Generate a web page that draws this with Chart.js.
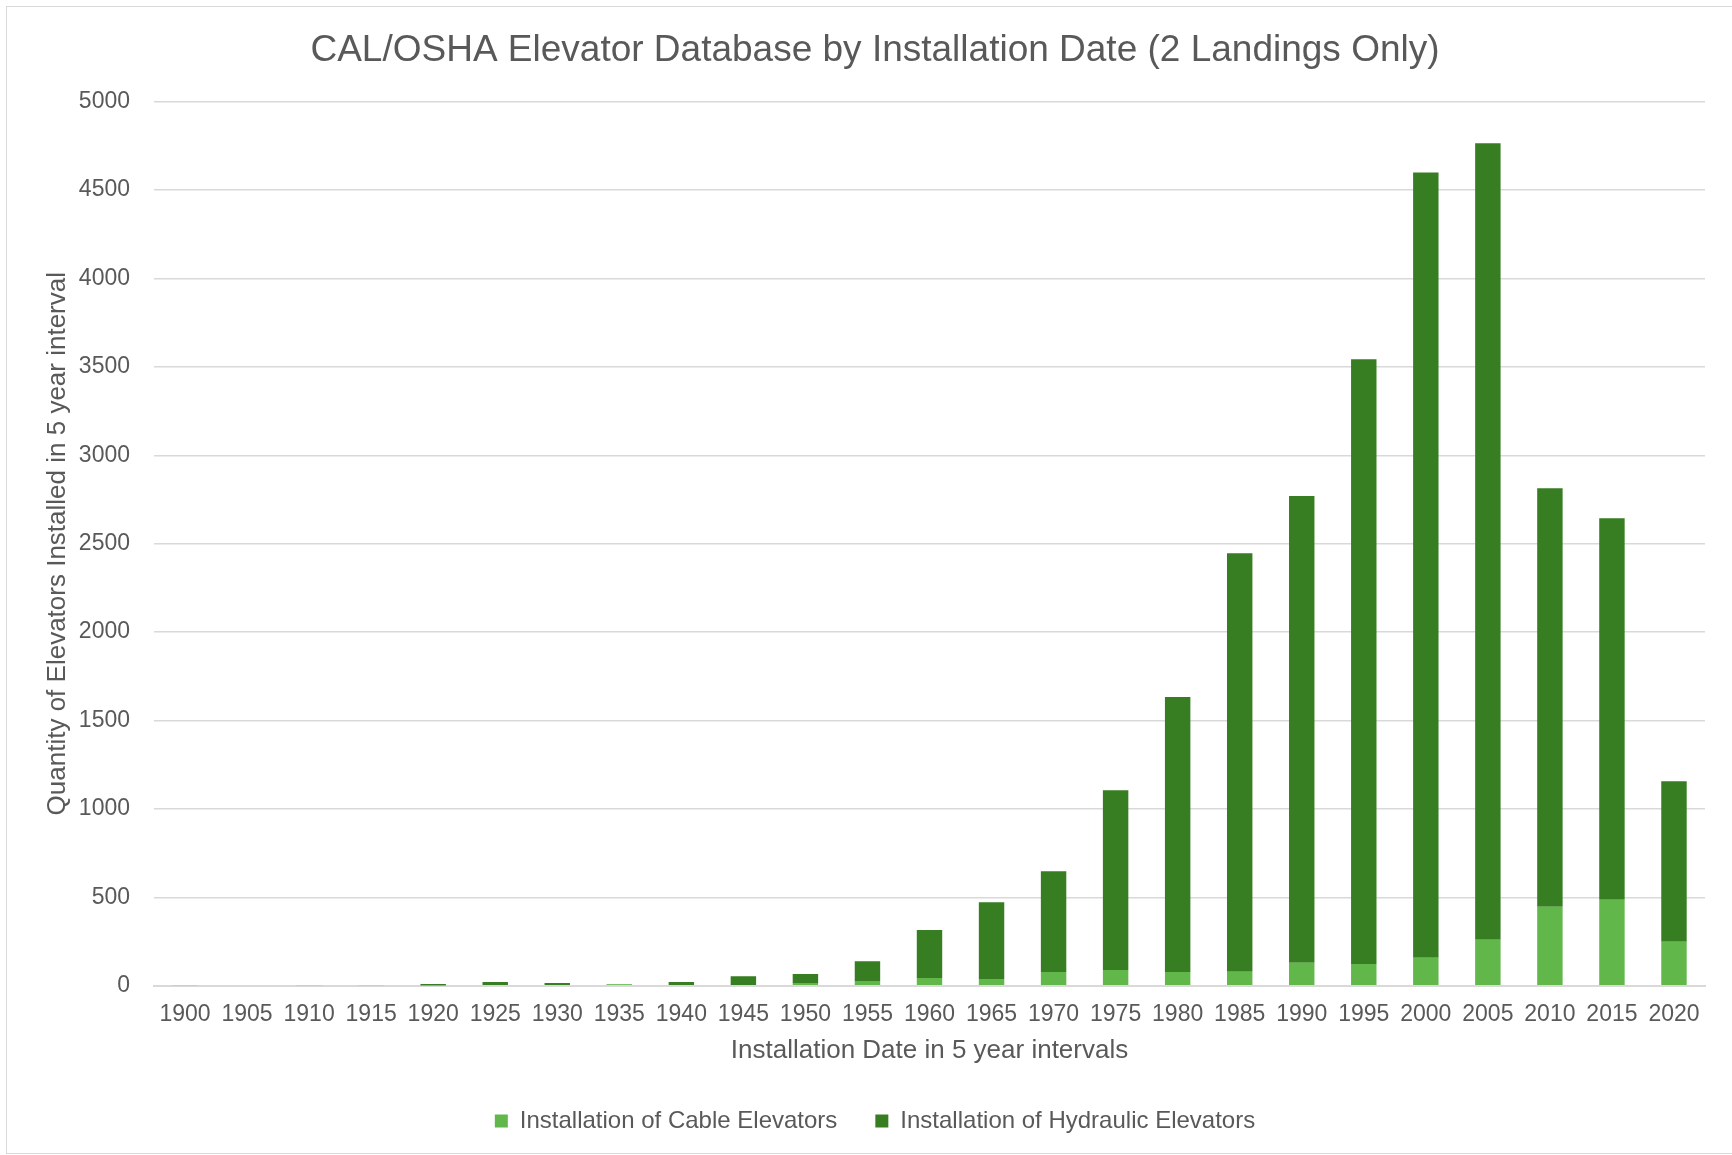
<!DOCTYPE html>
<html>
<head>
<meta charset="utf-8">
<title>CAL/OSHA Elevator Database by Installation Date</title>
<script src="https://cdn.jsdelivr.net/npm/chart.js@4.4.1/dist/chart.umd.min.js"></script>
<style>
    html, body {
        margin: 0;
        padding: 0;
        background: #ffffff;
        overflow: hidden;
    }
    .frame {
        position: absolute;
        left: 6px;
        top: 6px;
        width: 1738px;
        height: 1148px;
        box-sizing: border-box;
        border: 1px solid #d9d9d9;
        background: #ffffff;
    }
    #elevatorChart {
        display: block;
    }
</style>
</head>
<body>
<div class="frame">
    <canvas id="elevatorChart" width="1736" height="1146"></canvas>
</div>
<script>
// Installation periods (5 year intervals)
const years = ['1900', '1905', '1910', '1915', '1920', '1925', '1930', '1935', '1940', '1945',
    '1950', '1955', '1960', '1965', '1970', '1975', '1980', '1985', '1990', '1995',
    '2000', '2005', '2010', '2015', '2020'];

// Cable elevators installed per interval
const cableElevators = [3, 0, 2, 2, 1, 4, 4, 8, 4, 4,
    15, 26, 43, 38, 77, 89, 77, 79, 130, 123,
    158, 260, 447, 486, 249];

// Hydraulic elevators installed per interval
const hydraulicElevators = [0, 0, 0, 0, 8, 17, 11, 1, 17, 49,
    51, 112, 272, 434, 570, 1016, 1556, 2367, 2640, 3420,
    4442, 4505, 2366, 2158, 907];

// Y axis range
const yMin = 0;
const yMax = 5000;
const yStep = 500;

const textColor = '#595959';
const gridColor = '#d9d9d9';
const fontFamily = "'Liberation Sans', Arial, sans-serif";

document.addEventListener('DOMContentLoaded', function() {
    initChart();
});

function initChart() {
    const ctx = document.getElementById('elevatorChart');
    if (!ctx) return;

    new Chart(ctx, {
        type: 'bar',
        data: {
            labels: years,
            datasets: [{
                label: 'Installation of Cable Elevators',
                data: cableElevators,
                backgroundColor: '#62b74a',
                borderWidth: 0
            }, {
                label: 'Installation of Hydraulic Elevators',
                data: hydraulicElevators,
                backgroundColor: '#377e22',
                borderWidth: 0
            }]
        },
        options: {
            responsive: false,
            animation: false,
            devicePixelRatio: 1,
            layout: {
                padding: { left: 38, right: 38, top: 0, bottom: 10 }
            },
            datasets: {
                bar: {
                    barPercentage: 0.41,
                    categoryPercentage: 1.0
                }
            },
            plugins: {
                title: {
                    display: true,
                    text: 'CAL/OSHA Elevator Database by Installation Date (2 Landings Only)',
                    color: textColor,
                    font: { family: fontFamily, size: 37, weight: 'normal' },
                    padding: { top: 22, bottom: 28.3 }
                },
                legend: {
                    position: 'bottom',
                    labels: {
                        color: textColor,
                        font: { family: fontFamily, size: 24 },
                        boxWidth: 13,
                        boxHeight: 13,
                        padding: 38
                    }
                },
                tooltip: { enabled: false }
            },
            scales: {
                x: {
                    stacked: true,
                    grid: { display: false, drawTicks: false },
                    border: { display: true, color: gridColor, width: 2 },
                    ticks: {
                        color: textColor,
                        font: { family: fontFamily, size: 23 },
                        padding: 15.5,
                        maxRotation: 0,
                        autoSkip: false
                    },
                    title: {
                        display: true,
                        text: 'Installation Date in 5 year intervals',
                        color: textColor,
                        font: { family: fontFamily, size: 26 },
                        padding: { top: 0, bottom: 4.4 }
                    },
                    afterFit: function(scale) {
                        scale.height = 85.3;
                    }
                },
                y: {
                    stacked: true,
                    min: yMin,
                    max: yMax,
                    grid: {
                        color: gridColor,
                        lineWidth: 1.6,
                        drawTicks: false
                    },
                    border: { display: false },
                    ticks: {
                        stepSize: yStep,
                        color: textColor,
                        font: { family: fontFamily, size: 23 },
                        padding: 24,
                        callback: function(value) {
                            return String(value);
                        }
                    },
                    title: {
                        display: true,
                        text: 'Quantity of Elevators Installed in 5 year interval',
                        color: textColor,
                        font: { family: fontFamily, size: 26 },
                        padding: { top: -3, bottom: 0 }
                    },
                    afterFit: function(scale) {
                        scale.width = 109;
                    }
                }
            }
        }
    });
}
</script>
</body>
</html>
